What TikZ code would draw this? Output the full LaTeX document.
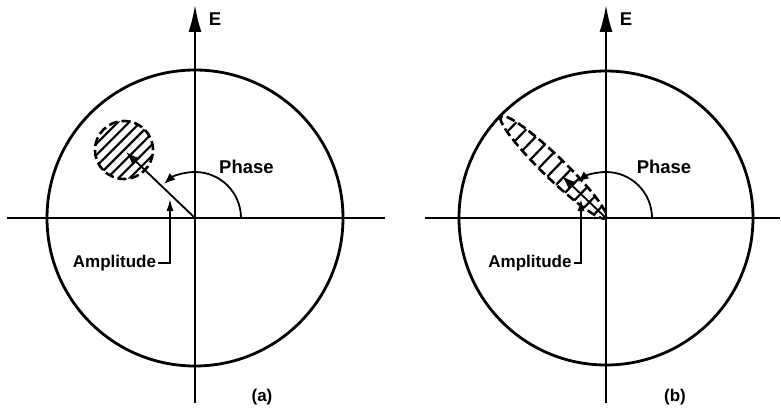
\documentclass[tikz,border=0pt]{standalone}
\usepackage{fontspec}
\setmainfont{Liberation Sans}
\usetikzlibrary{arrows.meta}
\begin{document}
\begin{tikzpicture}[x=1pt,y=1pt,
  lbl/.style={font=\fontsize{17}{19}\selectfont\bfseries, inner sep=0pt},
  biglbl/.style={font=\fontsize{18.5}{20}\selectfont\bfseries, inner sep=0pt},
  axis/.style={line width=2pt},
  bigcircle/.style={line width=2.8pt},
  upaxis/.style={axis,-{Latex[length=27pt,width=13pt]}},
  vec/.style={line width=1.8pt,-{Latex[length=14pt,width=10pt]}},
  phasearc/.style={line width=1.8pt,-{Latex[length=11pt,width=9pt]}},
  leader/.style={line width=1.7pt,-{Latex[length=12pt,width=7pt]}},
  spotline/.style={line width=2.6pt, dash pattern=on 9pt off 4pt},
  hatch/.style={line width=2.2pt}]
\useasboundingbox (-195,-189) rectangle (586,218);

% ---------- panel (a) ----------
\begin{scope}
\coordinate (aO) at (0,0);
\coordinate (aL) at (-188,0);
\coordinate (aR) at (190,0);
\coordinate (aB) at (0,-185);
\coordinate (aT) at (0,213);
\draw[axis] (aL) -- (aR);
\draw[upaxis] (aB) -- (aT);
\node[biglbl] (aE) at (20,199) {E};
\draw[bigcircle] (aO) circle[radius=148];
% hatched spot
\begin{scope}
\clip (-71,68) circle[radius=29];
\foreach \d in {-32,-24,...,32}
  \draw[hatch,shift={(-71,68)}] ({\d*0.7071-35},{-\d*0.7071-35}) -- ++(70,70);
\end{scope}
\draw[spotline] (-71,68) circle[radius=29];
\coordinate (aV) at (-69,66);
\draw[vec] (aO) -- (aV);
\draw[phasearc] (46,0) arc[start angle=0,end angle=132,radius=46];
\node[biglbl] (aPhase) at (51.5,51) {Phase};
\node[lbl] (aAmp) at (-80.5,-45) {Amplitude};
\coordinate (aAmpTip) at (-25,19);
\draw[leader] ([xshift=2pt]aAmp.east) -| (aAmpTip);
\node[lbl] (aCap) at (67,-179) {(a)};
\end{scope}

% ---------- panel (b) ----------
\begin{scope}[xshift=411pt]
\coordinate (bO) at (0,0);
\coordinate (bL) at (-181,0);
\coordinate (bR) at (174,0);
\coordinate (bB) at (0,-185);
\coordinate (bT) at (0,213);
\draw[axis] (bL) -- (bR);
\draw[upaxis] (bB) -- (bT);
\node[biglbl] (bE) at (20,199) {E};
\draw[bigcircle] (bO) circle[radius=147];
% hatched ellipse
\begin{scope}[shift={(-52.5,50.7)}, rotate=136]
\begin{scope}
\clip (0,0) ellipse[x radius=73, y radius=11];
\foreach \t in {-62,-50,...,62}
  \draw[hatch] (\t,-13) -- (\t,13);
\end{scope}
\draw[spotline] (0,0) ellipse[x radius=73, y radius=11];
\end{scope}
\coordinate (bV) at (-44,42);
\draw[vec] (bO) -- (bV);
\draw[phasearc] (46,0) arc[start angle=0,end angle=128,radius=46];
\node[biglbl] (bPhase) at (58,51) {Phase};
\node[lbl] (bAmp) at (-76,-45) {Amplitude};
\coordinate (bAmpTip) at (-25,19);
\draw[leader] ([xshift=2pt]bAmp.east) -| (bAmpTip);
\node[lbl] (bCap) at (69,-179) {(b)};
\end{scope}
\end{tikzpicture}
\end{document}
